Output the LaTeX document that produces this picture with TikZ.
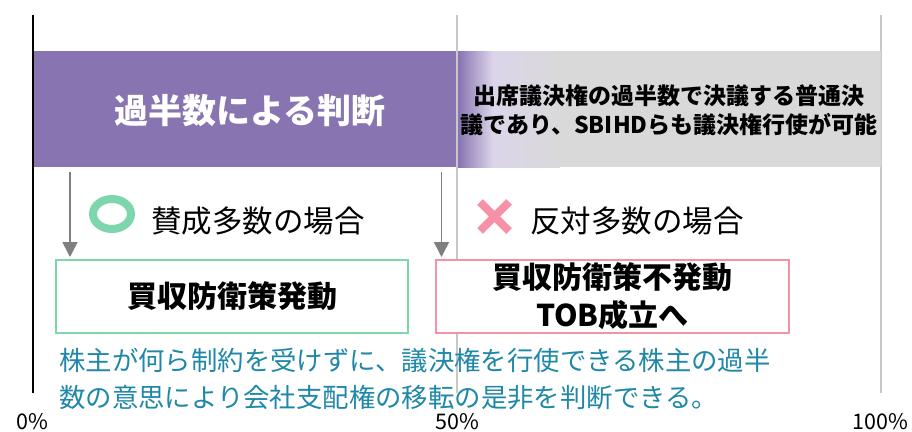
\documentclass[tikz,border=0pt]{standalone}
\usepackage{fontspec}
\setmainfont{Noto Sans CJK JP}
\usetikzlibrary{arrows.meta}
\definecolor{purp}{HTML}{8774B0}
\definecolor{lav}{HTML}{DCD5EA}
\definecolor{bandgray}{HTML}{D9D9D9}
\definecolor{okgreen}{HTML}{7ED6AC}
\definecolor{ngpink}{HTML}{F691A8}
\definecolor{bluetxt}{HTML}{1F88A8}
\definecolor{arrgray}{HTML}{7F7F7F}
\definecolor{gridgray}{HTML}{C8C8C8}
\tikzset{
  gridline/.style={draw=gridgray, line width=1.2pt},
  downarrow/.style={draw=arrgray, line width=1.6pt, -{Triangle[length=15pt,width=15pt]}},
  resultbox/.style={draw, line width=2pt, fill=white, minimum width=352pt, minimum height=73pt, inner sep=0pt, align=center, font=\fontsize{30}{38}\selectfont\bfseries},
  casetext/.style={anchor=west, inner sep=0pt, font=\fontsize{30.5}{36}\selectfont},
  pctlabel/.style={inner sep=0pt, anchor=base, font=\fontsize{21.5}{25}\selectfont},
}
\begin{document}
\begin{tikzpicture}[x=1pt,y=-1pt]
\useasboundingbox (0,0) rectangle (912,431);
\fill[white] (0,0) rectangle (912,431);
% vertical scale lines
\coordinate (g50t) at (457,15);
\coordinate (g50b) at (457,393);
\coordinate (g100t) at (881,15);
\coordinate (g100b) at (881,393);
\coordinate (g0t) at (33,15);
\coordinate (g0b) at (33,393);
\draw[gridline] (g50t) -- (g50b);
\draw[gridline] (g100t) -- (g100b);
% bands
\fill[purp] (34,51) rectangle (456,167);
\fill[bandgray] (458,51) rectangle (881,167);
\shade[left color=purp, right color=lav] (458,51) rectangle (493,167);
\shade[left color=lav, right color=bandgray] (493,51) rectangle (560,167);
\draw[black, line width=2pt] (g0t) -- (g0b);
\node[text=white, inner sep=0pt, font=\fontsize{34}{40}\selectfont\bfseries] (title) at (250,111) {過半数による判断};
\node[inner sep=0pt, align=center, font=\fontsize{23}{29}\selectfont\bfseries] (desc) at (669,110.5) {出席議決権の過半数で決議する普通決\\議であり、SBIHDらも議決権行使が可能};
% cases
\draw[okgreen, line width=8pt] (112,214) ellipse [x radius=19, y radius=15];
\node[casetext] (yes) at (151,221) {賛成多数の場合};
\draw[ngpink, line width=8pt] (480,202) -- (509,231);
\draw[ngpink, line width=8pt] (509,202) -- (480,231);
\node[casetext] (no) at (530,221) {反対多数の場合};
% result boxes
\node[resultbox, draw=okgreen] (okbox) at (232,296.5) {買収防衛策発動};
\node[resultbox, draw=ngpink, minimum width=353pt] (ngbox) at (612.5,296.5) {買収防衛策不発動\\TOB成立へ};
% arrows
\coordinate (a1s) at (70,172);
\coordinate (a1e) at (70,257);
\coordinate (a2s) at (441.5,172);
\coordinate (a2e) at (441.5,257);
\draw[downarrow] (a1s) -- (a1e);
\draw[downarrow] (a2s) -- (a2e);
% note
\node[anchor=west, inner sep=0pt, align=left, text=bluetxt, font=\fontsize{26.4}{37}\selectfont] (note) at (59,379.5) {株主が何ら制約を受けずに、議決権を行使できる株主の過半\\数の意思により会社支配権の移転の是非を判断できる。};
% percent labels
\node[pctlabel] (p0) at (32,429) {0\%};
\node[pctlabel] (p50) at (457,429) {50\%};
\node[pctlabel] (p100) at (880,429) {100\%};
\end{tikzpicture}
\end{document}
